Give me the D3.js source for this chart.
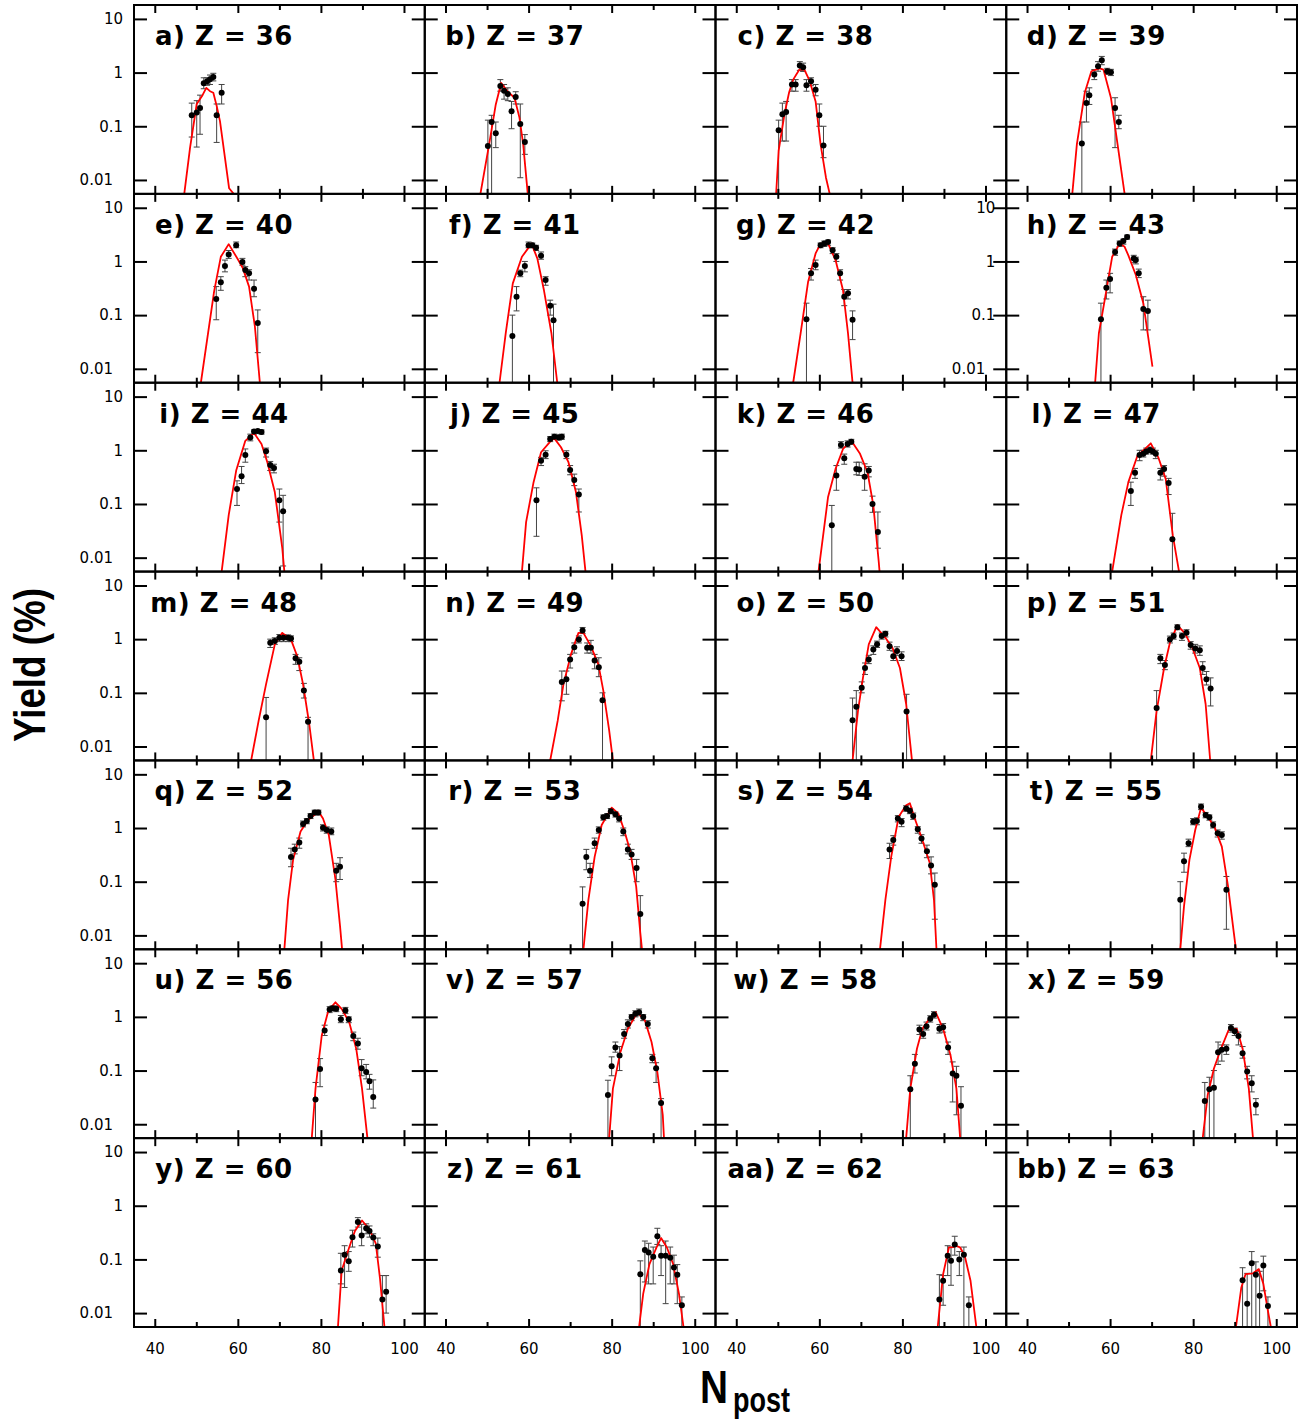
<!DOCTYPE html>
<html><head><meta charset="utf-8">
<script src="https://cdn.jsdelivr.net/npm/d3@7"></script>
<style>body{margin:0;background:#fff}</style>
</head><body>
<svg id="chart" width="1301" height="1425"></svg>
<script>
// ---------------- data ----------------
const zValues = [36,37,38,39,40,41,42,43,44,45,46,47,48,49,50,51,52,53,54,55,56,57,58,59,60,61,62,63];
const panelLetters = ["a","b","c","d","e","f","g","h","i","j","k","l","m","n","o","p","q","r","s","t","u","v","w","x","y","z","aa","bb"];
const xMajorTicks = [40,60,80,100];
const xMinorTicks = [50,70,90];
const yTickValues = [10,1,0.1,0.01];
const yTickLabels = ["10","1","0.1","0.01"];

// experimental points: [N_post, yield %, lower, upper]
const exp36 = [[48.9,0.16,0.063,0.27],[50.1,0.18,0.041,0.30],[50.9,0.22,0.071,0.38],[51.8,0.63,0.50,0.80],[52.6,0.69,0.58,0.80],[53.3,0.75,0.60,0.90],[54.1,0.83,0.70,0.97],[54.9,0.16,0.05,0.26],[56.1,0.42,0.26,0.60]];
const exp37 = [[50.2,0.043,0.001,0.13],[51.1,0.12,0.001,0.16],[52.1,0.074,0.04,0.12],[53.2,0.56,0.45,0.74],[54.1,0.46,0.32,0.60],[55.0,0.40,0.30,0.52],[55.9,0.19,0.09,0.29],[56.9,0.35,0.26,0.44],[58.0,0.11,0.011,0.26],[59.1,0.051,0.03,0.07]];
const exp38 = [[50.2,0.084,0.001,0.13],[51.1,0.167,0.053,0.27],[52.0,0.184,0.053,0.29],[53.4,0.60,0.45,0.74],[54.3,0.60,0.45,0.74],[55.3,1.35,1.1,1.6],[56.1,1.26,1.05,1.5],[56.9,0.58,0.45,0.74],[58.0,0.69,0.57,0.80],[59.1,0.48,0.37,0.60],[60.0,0.16,0.10,0.26],[61.0,0.044,0.026,0.10]];
const exp39 = [[53.2,0.048,0.001,0.12],[54.3,0.27,0.12,0.45],[55.0,0.38,0.255,0.52],[56.2,0.92,0.74,1.14],[57.1,1.31,1.06,1.6],[58.0,1.69,1.4,2.0],[59.3,1.06,0.92,1.2],[60.2,1.01,0.88,1.15],[61.2,0.22,0.04,0.34],[62.1,0.12,0.09,0.16]];
const exp40 = [[54.8,0.20,0.082,0.34],[55.9,0.41,0.29,0.52],[56.9,0.82,0.64,1.06],[57.8,1.35,1.14,1.6],[59.6,2.0,1.8,2.3],[61.1,0.98,0.85,1.14],[61.8,0.69,0.52,0.80],[62.7,0.60,0.45,0.70],[63.9,0.31,0.22,0.45],[64.8,0.071,0.02,0.125]];
const exp41 = [[56.1,0.041,0.001,0.10],[57.1,0.22,0.12,0.34],[58.0,0.60,0.52,0.69],[59.1,0.82,0.64,1.0],[60.0,2.0,1.8,2.3],[60.9,2.0,1.8,2.2],[61.8,1.8,1.6,2.0],[63.0,1.27,1.1,1.5],[64.1,0.45,0.36,0.52],[65.2,0.15,0.10,0.19],[66.0,0.08,0.001,0.16]];
const exp42 = [[56.9,0.084,0.001,0.167],[58.0,0.60,0.45,0.74],[59.1,0.86,0.7,1.06],[60.3,2.0,1.8,2.2],[61.2,2.15,1.9,2.4],[62.1,2.3,2.0,2.5],[63.2,1.62,1.4,1.8],[64.1,1.22,1.0,1.4],[65.0,0.60,0.45,0.70],[66.0,0.22,0.15,0.30],[66.9,0.255,0.2,0.3],[68.0,0.082,0.035,0.12]];
const exp43 = [[57.8,0.084,0.001,0.167],[59.1,0.325,0.2,0.45],[60.0,0.47,0.26,0.6],[61.2,1.5,1.3,1.7],[62.3,2.15,1.9,2.4],[63.2,2.4,2.1,2.6],[64.1,2.86,2.6,3.1],[65.7,1.14,0.95,1.3],[66.2,1.06,0.9,1.2],[66.9,0.60,0.5,0.72],[68.0,0.13,0.053,0.22],[69.1,0.12,0.053,0.19]];
const exp44 = [[59.8,0.19,0.094,0.27],[60.9,0.33,0.24,0.50],[61.8,0.82,0.6,1.06],[63.0,1.74,1.5,2.0],[63.9,2.25,2.0,2.4],[64.8,2.3,2.1,2.4],[65.7,2.2,2.0,2.4],[66.8,0.96,0.75,1.1],[67.8,0.53,0.42,0.62],[68.7,0.47,0.38,0.55],[70.0,0.117,0.046,0.19],[70.9,0.073,0.007,0.145]];
const exp45 = [[61.9,0.117,0.025,0.20],[63.0,0.64,0.52,0.74],[64.1,0.83,0.7,0.98],[65.2,1.62,1.45,1.8],[66.2,1.79,1.6,2.0],[67.3,1.74,1.55,1.95],[68.0,1.79,1.6,2.0],[69.1,0.83,0.7,0.98],[70.0,0.43,0.35,0.52],[71.0,0.28,0.22,0.36],[72.1,0.15,0.071,0.19]];
const exp46 = [[63.0,0.040,0.001,0.094],[64.1,0.34,0.18,0.52],[65.2,1.26,1.1,1.45],[66.0,0.71,0.55,0.85],[66.8,1.31,1.15,1.5],[67.7,1.45,1.3,1.6],[68.9,0.45,0.35,0.6],[69.6,0.44,0.34,0.6],[70.9,0.32,0.18,0.56],[71.9,0.42,0.32,0.5],[72.8,0.10,0.07,0.14],[74.1,0.03,0.015,0.071]];
const exp47 = [[65.0,0.174,0.094,0.255],[66.0,0.38,0.3,0.46],[67.1,0.82,0.64,1.0],[68.0,0.86,0.75,1.0],[68.7,0.95,0.85,1.1],[69.6,1.01,0.9,1.15],[70.3,0.95,0.85,1.1],[71.0,0.86,0.7,1.0],[72.1,0.38,0.28,0.46],[73.0,0.45,0.33,0.52],[74.1,0.245,0.15,0.3],[75.0,0.022,0.001,0.067]];
const exp48 = [[66.8,0.035,0.001,0.082],[67.8,0.86,0.7,1.0],[68.9,0.92,0.8,1.06],[70.0,1.06,0.9,1.22],[71.0,1.06,0.9,1.22],[72.1,1.06,0.9,1.2],[72.8,1.03,0.9,1.15],[73.9,0.44,0.34,0.52],[74.8,0.38,0.26,0.45],[75.9,0.11,0.08,0.15],[76.9,0.029,0.001,0.035]];
const exp49 = [[68.0,0.16,0.071,0.255],[69.1,0.18,0.094,0.255],[70.0,0.42,0.29,0.52],[71.0,0.71,0.55,0.85],[72.1,0.99,0.85,1.15],[73.0,1.45,1.27,1.65],[74.1,0.69,0.55,0.85],[75.0,0.69,0.55,0.95],[75.9,0.40,0.28,0.52],[76.9,0.30,0.2,0.45],[77.8,0.073,0.001,0.1]];
const exp50 = [[68.0,0.031,0.001,0.08],[68.9,0.055,0.001,0.11],[70.2,0.125,0.1,0.16],[71.0,0.29,0.22,0.36],[71.9,0.42,0.35,0.5],[73.0,0.64,0.52,0.75],[73.9,0.8,0.7,0.92],[75.0,1.14,1.0,1.3],[75.9,1.26,1.1,1.4],[76.9,0.74,0.62,0.88],[77.8,0.48,0.4,0.6],[78.7,0.6,0.5,0.72],[79.8,0.48,0.4,0.58],[81.0,0.045,0.001,0.094]];
const exp51 = [[71.2,0.052,0.001,0.11],[72.1,0.44,0.35,0.52],[73.2,0.33,0.27,0.4],[74.4,0.99,0.85,1.14],[75.3,1.14,1.0,1.3],[76.2,1.67,1.5,1.85],[77.3,1.14,0.95,1.3],[78.4,1.31,1.1,1.5],[79.4,0.78,0.65,0.9],[80.5,0.67,0.55,0.8],[81.6,0.62,0.5,0.75],[82.3,0.29,0.22,0.38],[83.2,0.18,0.14,0.25],[84.2,0.12,0.057,0.19]];
const exp52 = [[72.8,0.29,0.19,0.42],[73.7,0.40,0.33,0.5],[74.8,0.54,0.42,0.65],[75.7,1.19,1.05,1.35],[76.6,1.35,1.2,1.5],[77.5,1.67,1.5,1.85],[78.5,1.95,1.75,2.15],[79.4,1.95,1.75,2.15],[80.5,1.01,0.88,1.15],[81.4,0.92,0.8,1.05],[82.5,0.86,0.75,1.0],[83.7,0.16,0.10,0.22],[84.6,0.19,0.11,0.28]];
const exp53 = [[73.0,0.039,0.001,0.08],[73.9,0.29,0.167,0.40],[74.8,0.16,0.12,0.22],[75.9,0.52,0.42,0.65],[76.9,0.92,0.8,1.05],[78.0,1.58,1.4,1.75],[78.9,1.67,1.5,1.85],[79.8,2.06,1.85,2.3],[80.9,1.8,1.6,2.0],[81.8,1.5,1.3,1.7],[82.8,0.86,0.72,1.0],[83.9,0.40,0.33,0.5],[84.8,0.32,0.26,0.4],[86.0,0.18,0.1,0.26],[86.9,0.025,0.001,0.055]];
const exp54 = [[76.9,0.40,0.27,0.52],[77.8,0.60,0.48,0.72],[78.9,1.5,1.3,1.7],[79.8,1.31,1.06,1.5],[80.9,2.3,2.05,2.6],[81.8,2.1,1.85,2.35],[82.6,1.67,1.45,1.9],[83.7,0.95,0.8,1.06],[84.6,0.64,0.52,0.75],[85.9,0.37,0.28,0.48],[86.9,0.20,0.14,0.29],[87.8,0.088,0.02,0.145]];
const exp55 = [[76.9,0.046,0.001,0.10],[77.8,0.24,0.15,0.34],[78.9,0.52,0.45,0.62],[80.0,1.31,1.15,1.5],[80.9,1.35,1.15,1.55],[81.9,2.5,2.2,2.8],[83.0,1.74,1.55,1.95],[83.9,1.58,1.4,1.75],[84.8,1.14,1.0,1.3],[85.9,0.80,0.68,0.92],[86.9,0.74,0.62,0.85],[88.0,0.071,0.013,0.125]];
const exp56 = [[78.7,0.029,0.001,0.06],[79.8,0.107,0.05,0.167],[80.9,0.56,0.45,0.7],[82.1,1.37,1.2,1.55],[82.8,1.45,1.3,1.6],[83.7,1.41,1.25,1.6],[84.8,0.90,0.78,1.06],[85.9,1.31,1.15,1.5],[86.7,0.90,0.78,1.0],[87.8,0.44,0.36,0.52],[88.9,0.32,0.25,0.4],[89.8,0.11,0.08,0.16],[90.9,0.094,0.07,0.13],[91.7,0.063,0.045,0.085],[92.6,0.032,0.02,0.067]];
const exp57 = [[79.1,0.035,0.001,0.066],[80.0,0.12,0.08,0.18],[80.9,0.27,0.22,0.34],[81.9,0.19,0.1,0.28],[83.0,0.48,0.4,0.58],[83.9,0.74,0.62,0.88],[84.8,0.99,0.85,1.1],[85.7,1.14,1.0,1.3],[86.6,1.22,1.05,1.4],[87.6,0.99,0.85,1.1],[88.7,0.74,0.62,0.85],[89.8,0.17,0.14,0.2],[90.7,0.11,0.06,0.14],[91.9,0.025,0.001,0.03]];
const exp58 = [[81.9,0.045,0.001,0.08],[83.0,0.134,0.09,0.2],[84.1,0.58,0.47,0.7],[85.0,0.48,0.4,0.6],[85.8,0.67,0.57,0.8],[86.7,0.92,0.8,1.05],[87.6,1.10,0.95,1.25],[88.9,0.60,0.5,0.72],[89.8,0.64,0.52,0.75],[91.0,0.27,0.2,0.34],[92.1,0.088,0.026,0.145],[93.0,0.08,0.015,0.12],[94.1,0.022,0.001,0.05]];
const exp59 = [[82.8,0.027,0.001,0.06],[83.9,0.045,0.001,0.075],[85.0,0.048,0.001,0.1],[86.0,0.22,0.13,0.34],[86.9,0.245,0.15,0.3],[88.0,0.255,0.2,0.3],[89.1,0.62,0.52,0.72],[90.0,0.54,0.45,0.62],[90.9,0.44,0.3,0.52],[91.9,0.21,0.17,0.28],[93.0,0.096,0.07,0.12],[94.1,0.058,0.04,0.08],[95.1,0.023,0.015,0.03]];
const exp60 = [[84.8,0.062,0.035,0.13],[85.7,0.122,0.03,0.18],[86.7,0.092,0.06,0.14],[87.6,0.26,0.17,0.35],[88.9,0.50,0.4,0.6],[89.8,0.28,0.18,0.45],[90.9,0.38,0.3,0.46],[91.7,0.34,0.26,0.42],[92.6,0.255,0.18,0.3],[93.7,0.174,0.11,0.25],[94.8,0.018,0.001,0.05],[95.7,0.025,0.01,0.05]];
const exp61 = [[86.9,0.053,0.001,0.094],[88.0,0.15,0.038,0.22],[88.9,0.135,0.035,0.2],[90.0,0.112,0.035,0.17],[91.0,0.27,0.19,0.38],[91.9,0.117,0.05,0.18],[93.0,0.117,0.015,0.22],[94.1,0.107,0.035,0.17],[95.0,0.071,0.035,0.12],[95.8,0.052,0.015,0.08],[96.9,0.014,0.001,0.02]];
const exp62 = [[88.9,0.018,0.001,0.052],[89.8,0.04,0.014,0.05],[90.9,0.117,0.05,0.18],[91.7,0.094,0.033,0.17],[92.6,0.19,0.12,0.27],[93.7,0.10,0.05,0.14],[94.8,0.122,0.001,0.17],[96.0,0.014,0.001,0.02]];
const exp63 = [[91.9,0.041,0.001,0.07],[93.0,0.015,0.001,0.055],[94.1,0.085,0.001,0.14],[95.1,0.052,0.001,0.09],[96.0,0.021,0.001,0.06],[96.9,0.077,0.026,0.115],[98.0,0.0135,0.001,0.02]];

// calculated curves: [N_post, yield %]
const fit36 = [[47.1,0.0055],[48.5,0.04],[50.1,0.26],[51.5,0.38],[52.4,0.52],[53.3,0.45],[54.1,0.42],[54.9,0.24],[55.7,0.125],[57.9,0.007],[59.0,0.0055]];
const fit37 = [[48.4,0.0055],[50.5,0.046],[52.1,0.255],[53.4,0.64],[55.0,0.44],[56.6,0.34],[57.8,0.145],[58.7,0.046],[59.8,0.0055]];
const fit38 = [[49.6,0.0055],[50.2,0.035],[51.6,0.167],[52.7,0.42],[53.7,0.74],[55.2,1.14],[56.4,1.14],[57.7,0.69],[59.1,0.29],[60.3,0.046],[61.6,0.011],[62.5,0.0055]];
const fit39 = [[50.9,0.0055],[52.0,0.046],[53.9,0.42],[55.5,1.06],[56.6,1.14],[57.5,1.2],[58.4,1.14],[60.2,0.34],[61.8,0.046],[63.5,0.0055]];
const fit40 = [[51.1,0.0055],[54.3,0.28],[55.9,1.22],[57.8,2.1],[60.0,1.1],[61.2,0.75],[62.7,0.34],[64.1,0.062],[65.3,0.0055]];
const fit41 = [[53.0,0.0055],[54.5,0.046],[56.2,0.39],[58.4,1.22],[60.7,2.15],[62.1,1.14],[63.7,0.29],[65.5,0.046],[66.9,0.0055]];
const fit42 = [[53.7,0.0055],[55.5,0.046],[57.3,0.42],[59.1,1.41],[60.3,2.15],[62.1,2.15],[63.9,1.06],[65.7,0.29],[66.9,0.046],[68.0,0.0055]];
const fit43 = [[56.4,0.0055],[57.3,0.046],[58.7,0.19],[60.5,1.22],[62.3,2.15],[63.5,1.87],[64.4,1.3],[66.2,0.56],[68.0,0.167],[70.2,0.011]];
const fit44 = [[56.1,0.0055],[57.8,0.062],[59.6,0.42],[61.8,1.5],[63.9,2.1],[65.7,1.31],[67.1,0.6],[68.9,0.167],[70.7,0.015],[71.2,0.0055]];
const fit45 = [[58.4,0.0055],[59.4,0.046],[61.2,0.255],[63.0,0.92],[65.2,1.45],[66.2,1.67],[67.8,1.14],[69.6,0.6],[71.4,0.167],[72.8,0.026],[73.7,0.0055]];
const fit46 = [[59.8,0.0055],[62.1,0.135],[63.9,0.45],[65.7,1.06],[67.7,1.5],[69.8,0.86],[71.6,0.39],[73.0,0.094],[74.3,0.0084],[74.5,0.0055]];
const fit47 = [[60.5,0.0055],[62.7,0.062],[64.4,0.255],[66.6,0.8],[68.4,1.06],[69.8,1.35],[71.6,0.74],[73.4,0.29],[75.1,0.026],[76.6,0.0055]];
const fit48 = [[63.2,0.0055],[65.0,0.03],[66.8,0.145],[68.9,0.8],[70.7,1.31],[72.8,0.98],[74.3,0.48],[75.7,0.145],[77.2,0.026],[78.3,0.0055]];
const fit49 = [[65.2,0.0055],[67.0,0.03],[68.4,0.145],[70.2,0.52],[72.0,1.31],[73.2,1.31],[75.0,0.74],[76.8,0.34],[78.0,0.109],[79.4,0.02],[80.3,0.0055]];
const fit50 = [[68.0,0.0055],[69.3,0.046],[70.5,0.19],[71.9,0.8],[73.7,1.67],[75.9,1.06],[77.6,0.69],[79.4,0.29],[80.9,0.062],[81.9,0.011],[82.3,0.0055]];
const fit51 = [[69.8,0.0055],[71.2,0.046],[73.0,0.29],[74.4,0.86],[76.2,1.8],[78.0,1.3],[79.8,0.69],[81.6,0.29],[83.0,0.062],[84.1,0.0055]];
const fit52 = [[71.2,0.0055],[72.1,0.046],[73.3,0.255],[75.1,0.86],[76.9,1.41],[78.4,1.74],[79.3,2.1],[80.5,1.5],[81.9,0.74],[83.5,0.11],[84.6,0.015],[85.1,0.0055]];
const fit53 = [[73.2,0.0055],[74.4,0.046],[75.9,0.29],[77.6,1.14],[80.0,2.4],[81.6,1.87],[83.0,0.92],[84.4,0.39],[85.9,0.082],[86.9,0.011],[87.3,0.0055]];
const fit54 = [[74.6,0.0055],[75.9,0.046],[77.3,0.29],[79.1,1.62],[80.9,2.65],[81.8,2.9],[83.1,1.41],[84.8,0.6],[86.6,0.22],[87.6,0.046],[88.2,0.0055]];
const fit55 = [[76.9,0.0055],[77.8,0.035],[79.1,0.255],[80.5,0.92],[81.9,2.4],[83.5,1.62],[85.1,1.06],[86.9,0.45],[88.4,0.082],[89.8,0.011],[90.3,0.0055]];
const fit56 = [[77.8,0.0055],[78.7,0.046],[80.2,0.45],[81.8,1.31],[83.5,1.87],[85.0,1.41],[86.8,0.8],[88.5,0.255],[89.9,0.046],[91.2,0.0055]];
const fit57 = [[79.4,0.0055],[80.3,0.046],[82.1,0.22],[83.9,0.6],[86.2,1.22],[88.0,0.86],[89.6,0.34],[91.0,0.094],[92.3,0.015],[92.6,0.0055]];
const fit58 = [[80.9,0.0055],[81.9,0.046],[83.5,0.255],[84.8,0.6],[86.2,0.86],[88.0,1.22],[89.8,0.6],[91.6,0.19],[93.0,0.046],[93.9,0.0055]];
const fit59 = [[82.3,0.0055],[83.5,0.035],[85.0,0.109],[86.7,0.255],[88.5,0.56],[89.4,0.6],[90.5,0.6],[91.9,0.255],[93.4,0.046],[94.4,0.0055]];
const fit60 = [[84.1,0.0055],[85.0,0.062],[86.8,0.167],[88.2,0.34],[89.9,0.53],[91.7,0.36],[93.2,0.2],[94.2,0.046],[95.3,0.0055]];
const fit61 = [[86.6,0.0055],[87.6,0.023],[89.1,0.082],[90.8,0.167],[91.9,0.25],[93.3,0.167],[94.8,0.082],[96.2,0.023],[97.3,0.0055]];
const fit62 = [[88.5,0.0055],[89.8,0.053],[91.2,0.167],[92.3,0.17],[92.9,0.178],[93.9,0.167],[95.0,0.117],[96.4,0.04],[97.8,0.0055]];
const fit63 = [[90.3,0.0055],[91.6,0.03],[92.6,0.053],[94.4,0.055],[95.8,0.066],[96.9,0.035],[98.0,0.011],[98.7,0.0055]];

const expSets = [exp36,exp37,exp38,exp39,exp40,exp41,exp42,exp43,exp44,exp45,exp46,exp47,exp48,exp49,exp50,exp51,exp52,exp53,exp54,exp55,exp56,exp57,exp58,exp59,exp60,exp61,exp62,exp63];
const fitSets = [fit36,fit37,fit38,fit39,fit40,fit41,fit42,fit43,fit44,fit45,fit46,fit47,fit48,fit49,fit50,fit51,fit52,fit53,fit54,fit55,fit56,fit57,fit58,fit59,fit60,fit61,fit62,fit63];

// ---------------- layout ----------------
const svg = d3.select("#chart");
const L = 134, T = 5, R = 1297, B = 1327;
const nCols = 4, nRows = 7;
const pw = (R - L) / nCols, ph = (B - T) / nRows;
const yDomain = [Math.pow(10, -2.259), Math.pow(10, 1.259)];
const tickFont = "'DejaVu Sans', sans-serif";

const panels = zValues.map((z, i) => ({
  z, letter: panelLetters[i], exp: expSets[i], fit: fitSets[i],
  col: i % nCols, row: Math.floor(i / nCols), idx: i
}));

panels.forEach(p => {
  const x0 = L + p.col * pw, y0 = T + p.row * ph;
  const x = d3.scaleLinear().domain([35, 105]).range([x0, x0 + pw]);
  const y = d3.scaleLog().domain(yDomain).range([y0 + ph, y0]);
  const g = svg.append("g");

  const clipId = "clip" + p.idx;
  svg.append("clipPath").attr("id", clipId).append("rect")
    .attr("x", x0).attr("y", y0).attr("width", pw).attr("height", ph);

  const plot = g.append("g").attr("clip-path", `url(#${clipId})`);

  // error bars
  const eb = plot.append("g").attr("stroke", "#444").attr("stroke-width", 1);
  eb.selectAll("line.v").data(p.exp).join("line")
    .attr("x1", d => x(d[0])).attr("x2", d => x(d[0]))
    .attr("y1", d => y(d[2])).attr("y2", d => y(d[3]));
  eb.selectAll("line.hi").data(p.exp).join("line").attr("class","hi")
    .attr("x1", d => x(d[0]) - 3).attr("x2", d => x(d[0]) + 3)
    .attr("y1", d => y(d[3])).attr("y2", d => y(d[3]));
  eb.selectAll("line.lo").data(p.exp.filter(d => d[2] > yDomain[0])).join("line").attr("class","lo")
    .attr("x1", d => x(d[0]) - 3).attr("x2", d => x(d[0]) + 3)
    .attr("y1", d => y(d[2])).attr("y2", d => y(d[2]));

  // calculated curve
  plot.append("path").datum(p.fit)
    .attr("fill", "none").attr("stroke", "#ff0000").attr("stroke-width", 1.8)
    .attr("stroke-linejoin", "round")
    .attr("d", d3.line().x(d => x(d[0])).y(d => y(d[1])));

  // points
  plot.append("g").selectAll("circle").data(p.exp).join("circle")
    .attr("cx", d => x(d[0])).attr("cy", d => y(d[1])).attr("r", 3).attr("fill", "#000");

  // axes (inward ticks on all four sides)
  const axStyle = sel => {
    sel.select(".domain").remove();
    sel.selectAll(".tick line").attr("stroke", "#000").attr("stroke-width", 2);
    sel.selectAll("text").attr("font-family", tickFont).attr("font-size", 15).attr("fill", "#000");
  };
  const isBottomRow = p.row === nRows - 1;
  g.append("g").attr("transform", `translate(0,${y0 + ph})`)
    .call(d3.axisBottom(x).tickValues(xMajorTicks).tickSize(-8).tickPadding(16)
      .tickFormat(isBottomRow ? d3.format("d") : () => ""))
    .call(axStyle);
  g.append("g").attr("transform", `translate(0,${y0 + ph})`)
    .call(d3.axisBottom(x).tickValues(xMinorTicks).tickSize(-5).tickFormat(() => "")).call(axStyle);
  g.append("g").attr("transform", `translate(0,${y0})`)
    .call(d3.axisTop(x).tickValues(xMajorTicks).tickSize(-8).tickFormat(() => "")).call(axStyle);
  g.append("g").attr("transform", `translate(0,${y0})`)
    .call(d3.axisTop(x).tickValues(xMinorTicks).tickSize(-5).tickFormat(() => "")).call(axStyle);

  const showY = p.col === 0 || p.letter === "h";
  const yl = g.append("g").attr("transform", `translate(${x0},0)`)
    .call(d3.axisLeft(y).tickValues(yTickValues).tickSize(-13).tickPadding(11)
      .tickFormat((d, i) => showY ? yTickLabels[i] : ""))
    .call(axStyle);
  yl.selectAll(".tick text").filter(d => d === 0.01).attr("x", -21);
  g.append("g").attr("transform", `translate(${x0 + pw},0)`)
    .call(d3.axisRight(y).tickValues(yTickValues).tickSize(-13).tickFormat(() => "")).call(axStyle);

  // panel frame
  g.append("rect").attr("x", x0).attr("y", y0).attr("width", pw).attr("height", ph)
    .attr("fill", "none").attr("stroke", "#000").attr("stroke-width", 2);

  // panel title
  g.append("text").attr("x", x0 + 90).attr("y", y0 + 40)
    .attr("text-anchor", "middle")
    .attr("font-family", "'DejaVu Sans', sans-serif").attr("font-weight", "bold")
    .attr("font-size", 26).attr("letter-spacing", 0.5)
    .text(`${p.letter}) Z = ${p.z}`);
});

// axis titles
svg.append("text").attr("transform", "translate(45,665) rotate(-90)")
  .attr("text-anchor", "middle")
  .attr("font-family", "'Liberation Sans Narrow', 'Liberation Sans', sans-serif")
  .attr("font-weight", "bold").attr("font-size", 44)
  .attr("textLength", 154).attr("lengthAdjust", "spacingAndGlyphs")
  .text("Yield (%)");

svg.append("text").attr("x", 700).attr("y", 1403)
  .attr("font-family", "'Liberation Sans Narrow', 'Liberation Sans', sans-serif")
  .attr("font-weight", "bold").attr("font-size", 46)
  .attr("textLength", 28).attr("lengthAdjust", "spacingAndGlyphs")
  .text("N");
svg.append("text").attr("x", 733).attr("y", 1412)
  .attr("font-family", "'Liberation Sans Narrow', 'Liberation Sans', sans-serif")
  .attr("font-weight", "bold").attr("font-size", 35)
  .attr("textLength", 57).attr("lengthAdjust", "spacingAndGlyphs")
  .text("post");
</script>
</body></html>
